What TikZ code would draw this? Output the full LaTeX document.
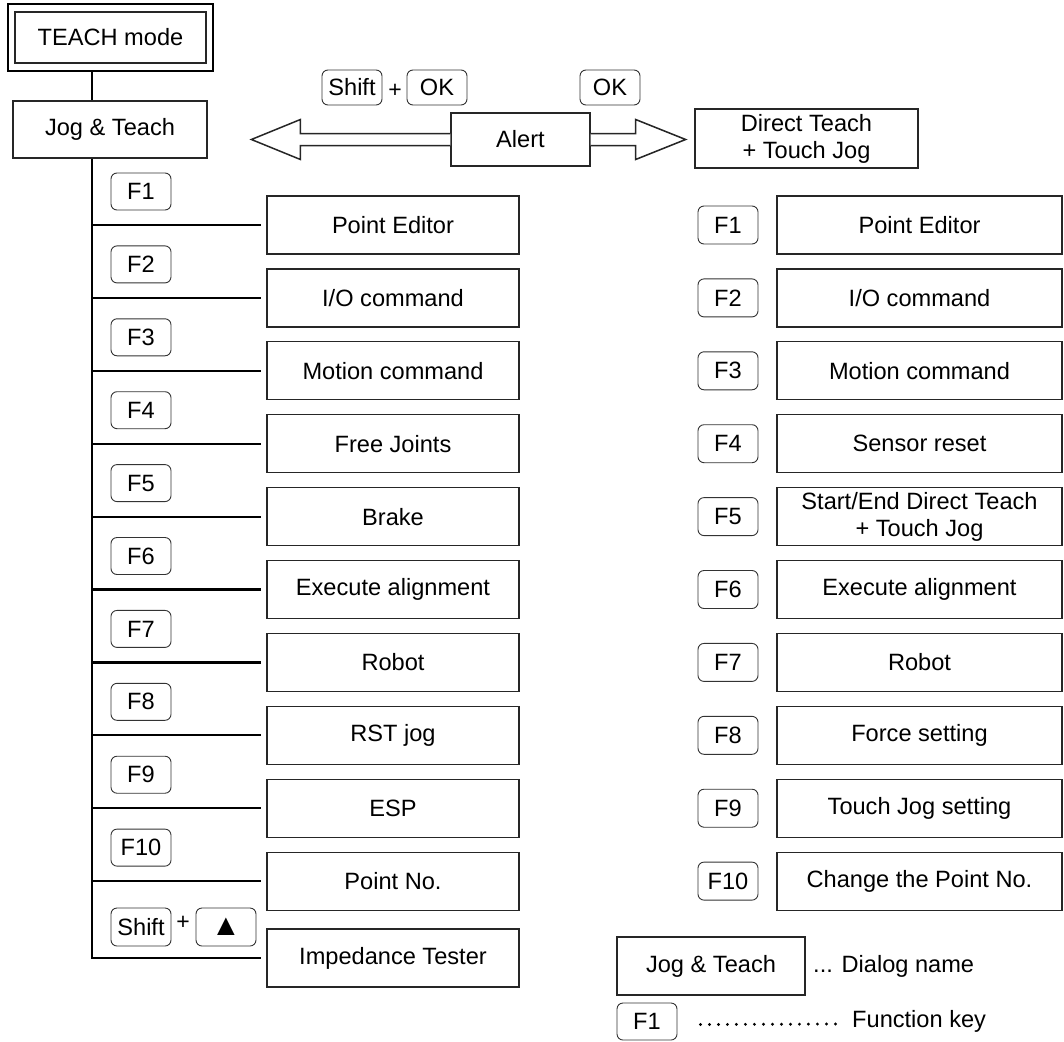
\documentclass[tikz,border=0pt]{standalone}
\usepackage{fontspec}
\setmainfont{Liberation Sans}
\usetikzlibrary{calc}
\begin{document}
\begin{tikzpicture}[x=1pt,y=-1pt,
  every node/.style={font=\fontsize{23.6}{27}\selectfont, inner sep=0pt, align=center},
  dbox/.style={draw=black!85, line width=1.2pt, fill=white},
  fkey/.style={draw=black!80, line width=0.9pt, rounded corners=6pt, minimum width=60pt, minimum height=37pt},
  conn/.style={line width=2.2pt, black},
  blockarrow/.style={draw=black!85, line width=1.5pt, fill=white, line join=miter}
]
\useasboundingbox (0,0) rectangle (1064,1041);

% top nodes
\node[dbox, line width=2pt, minimum width=191pt, minimum height=51pt] (teach) at (110.5,37.5) {TEACH mode};
\draw[line width=2.6pt] ($(teach.north west)+(-6,-7)$) rectangle ($(teach.south east)+(6,7)$);
\node[dbox, minimum width=194pt, minimum height=57pt] (jog) at (110,129.5) {Jog \& Teach};
\node[dbox, minimum width=139pt, minimum height=53pt] (alert) at (520.5,139.5) {Alert};
\node[dbox, minimum width=223pt, minimum height=59pt] (direct) at (806.5,138.5) {Direct Teach\\+ Touch Jog};

% block arrows
\draw[blockarrow] ($(alert.west)+(0,-6)$) -- ++(-150,0) -- ++(0,-14) -- ++(-49,20) -- ++(49,20) -- ++(0,-14) -- ($(alert.west)+(0,6)$);
\draw[blockarrow] ($(alert.east)+(0,-6)$) -- ++(45,0) -- ++(0,-14) -- ++(50,20) -- ++(-50,20) -- ++(0,-14) -- ($(alert.east)+(0,6)$);

% keys above
\node[fkey, minimum height=35pt] (kshift) at (352,87.5) {Shift};
\node[font=\fontsize{23}{24}\selectfont] (kplus) at (395,91) {+};
\node[fkey, minimum height=35pt] (kok) at (437,87.5) {OK};
\node[fkey, minimum height=35pt] (kok2) at (610,87.5) {OK};

% left column
\foreach \t [count=\i from 0] in {Point Editor, I/O command, Motion command, Free Joints, Brake, Execute alignment, Robot, RST jog, ESP, Point No.}{
  \pgfmathtruncatemacro{\n}{\i+1}
  \node[dbox, minimum width=252pt, minimum height=58pt] (l\n) at (393,{225+72.9*\i}) {\t};
  \node[fkey] (lk\n) at (141,{191.5+72.9*\i}) {F\n};
}
\node[dbox, minimum width=252pt, minimum height=58pt] (imp) at (393,958) {Impedance Tester};
\node[fkey, minimum height=38pt] (lshift) at (141,927) {Shift};
\node[font=\fontsize{23}{24}\selectfont] (lplus) at (183,923) {+};
\node[fkey, minimum height=38pt] (lup) at (226,927) {\fontsize{30}{30}\selectfont ▲};

% right column
\foreach \t [count=\i from 0] in {Point Editor, I/O command, Motion command, Sensor reset, {Start/End Direct Teach\\+ Touch Jog}, Execute alignment, Robot, Force setting, Touch Jog setting, Change the Point No.}{
  \pgfmathtruncatemacro{\n}{\i+1}
  \node[dbox, minimum width=285pt, minimum height=58pt] (r\n) at (919.5,{225+72.9*\i}) {\t};
  \node[fkey, minimum height=38pt] (rk\n) at (728,{225+72.9*\i}) {F\n};
}

% connectors
\coordinate (sp) at (92,0);
\coordinate (tb) at ($(teach.south)+(0,7)$);
\draw[conn] (tb -| sp) -- (jog.north -| sp);
\draw[conn] (jog.south -| sp) |- ($(imp.west)+(-5,0)$);
\foreach \n in {1,...,10}{
  \draw[conn] (sp |- l\n.west) -- ($(l\n.west)+(-5,0)$);
}

% legend
\node[dbox, minimum width=188pt, minimum height=58pt] (legjog) at (711,966) {Jog \& Teach};
\node[anchor=west] (legdlg) at (813,966) {... Dialog name};
\node[fkey] (legkey) at (647,1021.5) {F1};
\node[anchor=west] (legfk) at (852,1021) {Function key};
\draw[line width=3.2pt, line cap=round, dash pattern=on 0pt off 9pt] ($(legkey.east)+(23,3)$) -- ($(legfk.west)+(-14,3)$);
\end{tikzpicture}
\end{document}
